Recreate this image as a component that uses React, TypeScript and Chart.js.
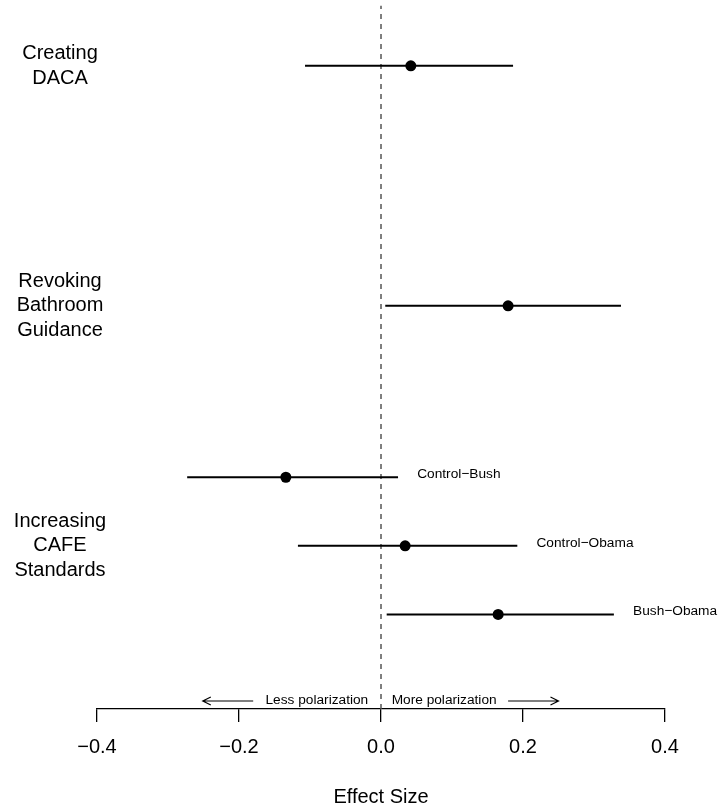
import React, { useEffect, useRef } from "react";
import { Chart, registerables } from "chart.js";

Chart.register(...registerables);

// ---- data ----
const GROUP_LABELS = ["Creating\nDACA", "Revoking\nBathroom\nGuidance", "Increasing\nCAFE\nStandards"];
const GROUP_Y = [9, 5.5, 2];

const ROW_Y = [9, 5.5, 3, 2, 1];
const ROW_LABELS = ["", "", "Control\u2212Bush", "Control\u2212Obama", "Bush\u2212Obama"];
const ESTIMATE = [0.042, 0.179, -0.134, 0.034, 0.165];
const LOWER = [-0.107, 0.006, -0.273, -0.117, 0.008];
const UPPER = [0.186, 0.338, 0.024, 0.192, 0.328];

const X_MIN = -0.4;
const X_MAX = 0.4;
const X_STEP = 0.2;
const Y_MIN = -0.38;
const Y_MAX = 9.88;

const LESS_LABEL = "Less polarization";
const MORE_LABEL = "More polarization";
const X_TITLE = "Effect Size";

const FONT = "'Liberation Sans', Arial, Helvetica, sans-serif";

function fmtTick(v: number): string {
  const n = Math.abs(v) < 1e-9 ? 0 : v;
  return n.toFixed(1).replace("-", "\u2212");
}

const annotationPlugin = {
  id: "annotations",
  afterDatasetsDraw(chart: any) {
    const ctx = chart.ctx as CanvasRenderingContext2D;
    const xs = chart.scales.x;
    const ys = chart.scales.y;
    ctx.save();
    ctx.fillStyle = "#000";
    // group labels on the left
    ctx.font = `20px ${FONT}`;
    ctx.textAlign = "center";
    ctx.textBaseline = "middle";
    const lh = 24.5;
    GROUP_LABELS.forEach((lab, i) => {
      const lines = lab.split("\n");
      const cy = ys.getPixelForValue(GROUP_Y[i]);
      lines.forEach((ln, j) => {
        ctx.fillText(ln, 60, cy + (j - (lines.length - 1) / 2) * lh);
      });
    });
    // comparison labels
    ctx.font = `13.7px ${FONT}`;
    ctx.textAlign = "left";
    ROW_LABELS.forEach((lab, i) => {
      if (!lab) return;
      const x = xs.getPixelForValue(UPPER[i] + 0.027);
      const y = ys.getPixelForValue(ROW_Y[i]) - 3;
      ctx.fillText(lab, x, y);
    });
    // polarization labels & arrows
    const ty = chart.chartArea.bottom - 9;
    ctx.textAlign = "right";
    ctx.fillText(LESS_LABEL, xs.getPixelForValue(-0.018), ty);
    ctx.textAlign = "left";
    ctx.fillText(MORE_LABEL, xs.getPixelForValue(0.015), ty);
    ctx.strokeStyle = "#000";
    ctx.lineWidth = 1.2;
    const arrow = (from: number, to: number) => {
      const x1 = xs.getPixelForValue(from);
      const x2 = xs.getPixelForValue(to);
      const ay = ty + 1;
      const dir = Math.sign(x2 - x1);
      ctx.beginPath();
      ctx.moveTo(x1, ay);
      ctx.lineTo(x2, ay);
      ctx.moveTo(x2 - dir * 8, ay - 4);
      ctx.lineTo(x2, ay);
      ctx.lineTo(x2 - dir * 8, ay + 4);
      ctx.stroke();
    };
    arrow(-0.18, -0.251);
    arrow(0.179, 0.25);
    ctx.restore();
  },
};

export default function App() {
  const ref = useRef<HTMLCanvasElement | null>(null);
  useEffect(() => {
    if (!ref.current) return;
    const ciSets = ROW_Y.map((y, i) => ({
      type: "scatter" as const,
      data: [
        { x: LOWER[i], y },
        { x: UPPER[i], y },
      ],
      showLine: true,
      borderColor: "#000",
      borderWidth: 2,
      pointRadius: 0,
      order: 2,
    }));
    const chart = new Chart(ref.current, {
      type: "scatter",
      data: {
        datasets: [
          {
            data: [
              { x: 0, y: Y_MIN },
              { x: 0, y: Y_MAX },
            ],
            showLine: true,
            borderColor: "#555",
            borderWidth: 1.5,
            borderDash: [5, 5],
            pointRadius: 0,
            order: 3,
          } as any,
          ...ciSets,
          {
            data: ROW_Y.map((y, i) => ({ x: ESTIMATE[i], y })),
            backgroundColor: "#000",
            borderColor: "#000",
            pointRadius: 5.5,
            pointBorderWidth: 0,
            order: 1,
          },
        ],
      },
      options: {
        responsive: false,
        animation: false,
        devicePixelRatio: 1,
        layout: { padding: { top: 5, left: 97, right: 55, bottom: 0 } },
        plugins: { legend: { display: false }, tooltip: { enabled: false }, title: { display: false } },
        scales: {
          x: {
            type: "linear",
            min: X_MIN,
            max: X_MAX,
            afterFit: (s: any) => {
              s.height = 100;
            },
            border: { display: true, color: "#000", width: 1.3 },
            grid: { drawOnChartArea: false, drawTicks: true, tickLength: 13, color: "#000", lineWidth: 1.3 },
            ticks: {
              stepSize: X_STEP,
              padding: 13,
              color: "#000",
              font: { family: FONT, size: 20 },
              callback: (v: any) => fmtTick(Number(v)),
              maxRotation: 0,
            },
            title: {
              display: true,
              text: X_TITLE,
              color: "#000",
              font: { family: FONT, size: 20 },
              padding: 0,
            },
          },
          y: {
            type: "linear",
            display: false,
            min: Y_MIN,
            max: Y_MAX,
          },
        },
      },
      plugins: [annotationPlugin],
    });
    return () => chart.destroy();
  }, []);
  return (
    <div style={{ position: "absolute", left: 0, top: 0, width: 720, height: 809, background: "#fff" }}>
      <canvas ref={ref} width={720} height={809} />
    </div>
  );
}
